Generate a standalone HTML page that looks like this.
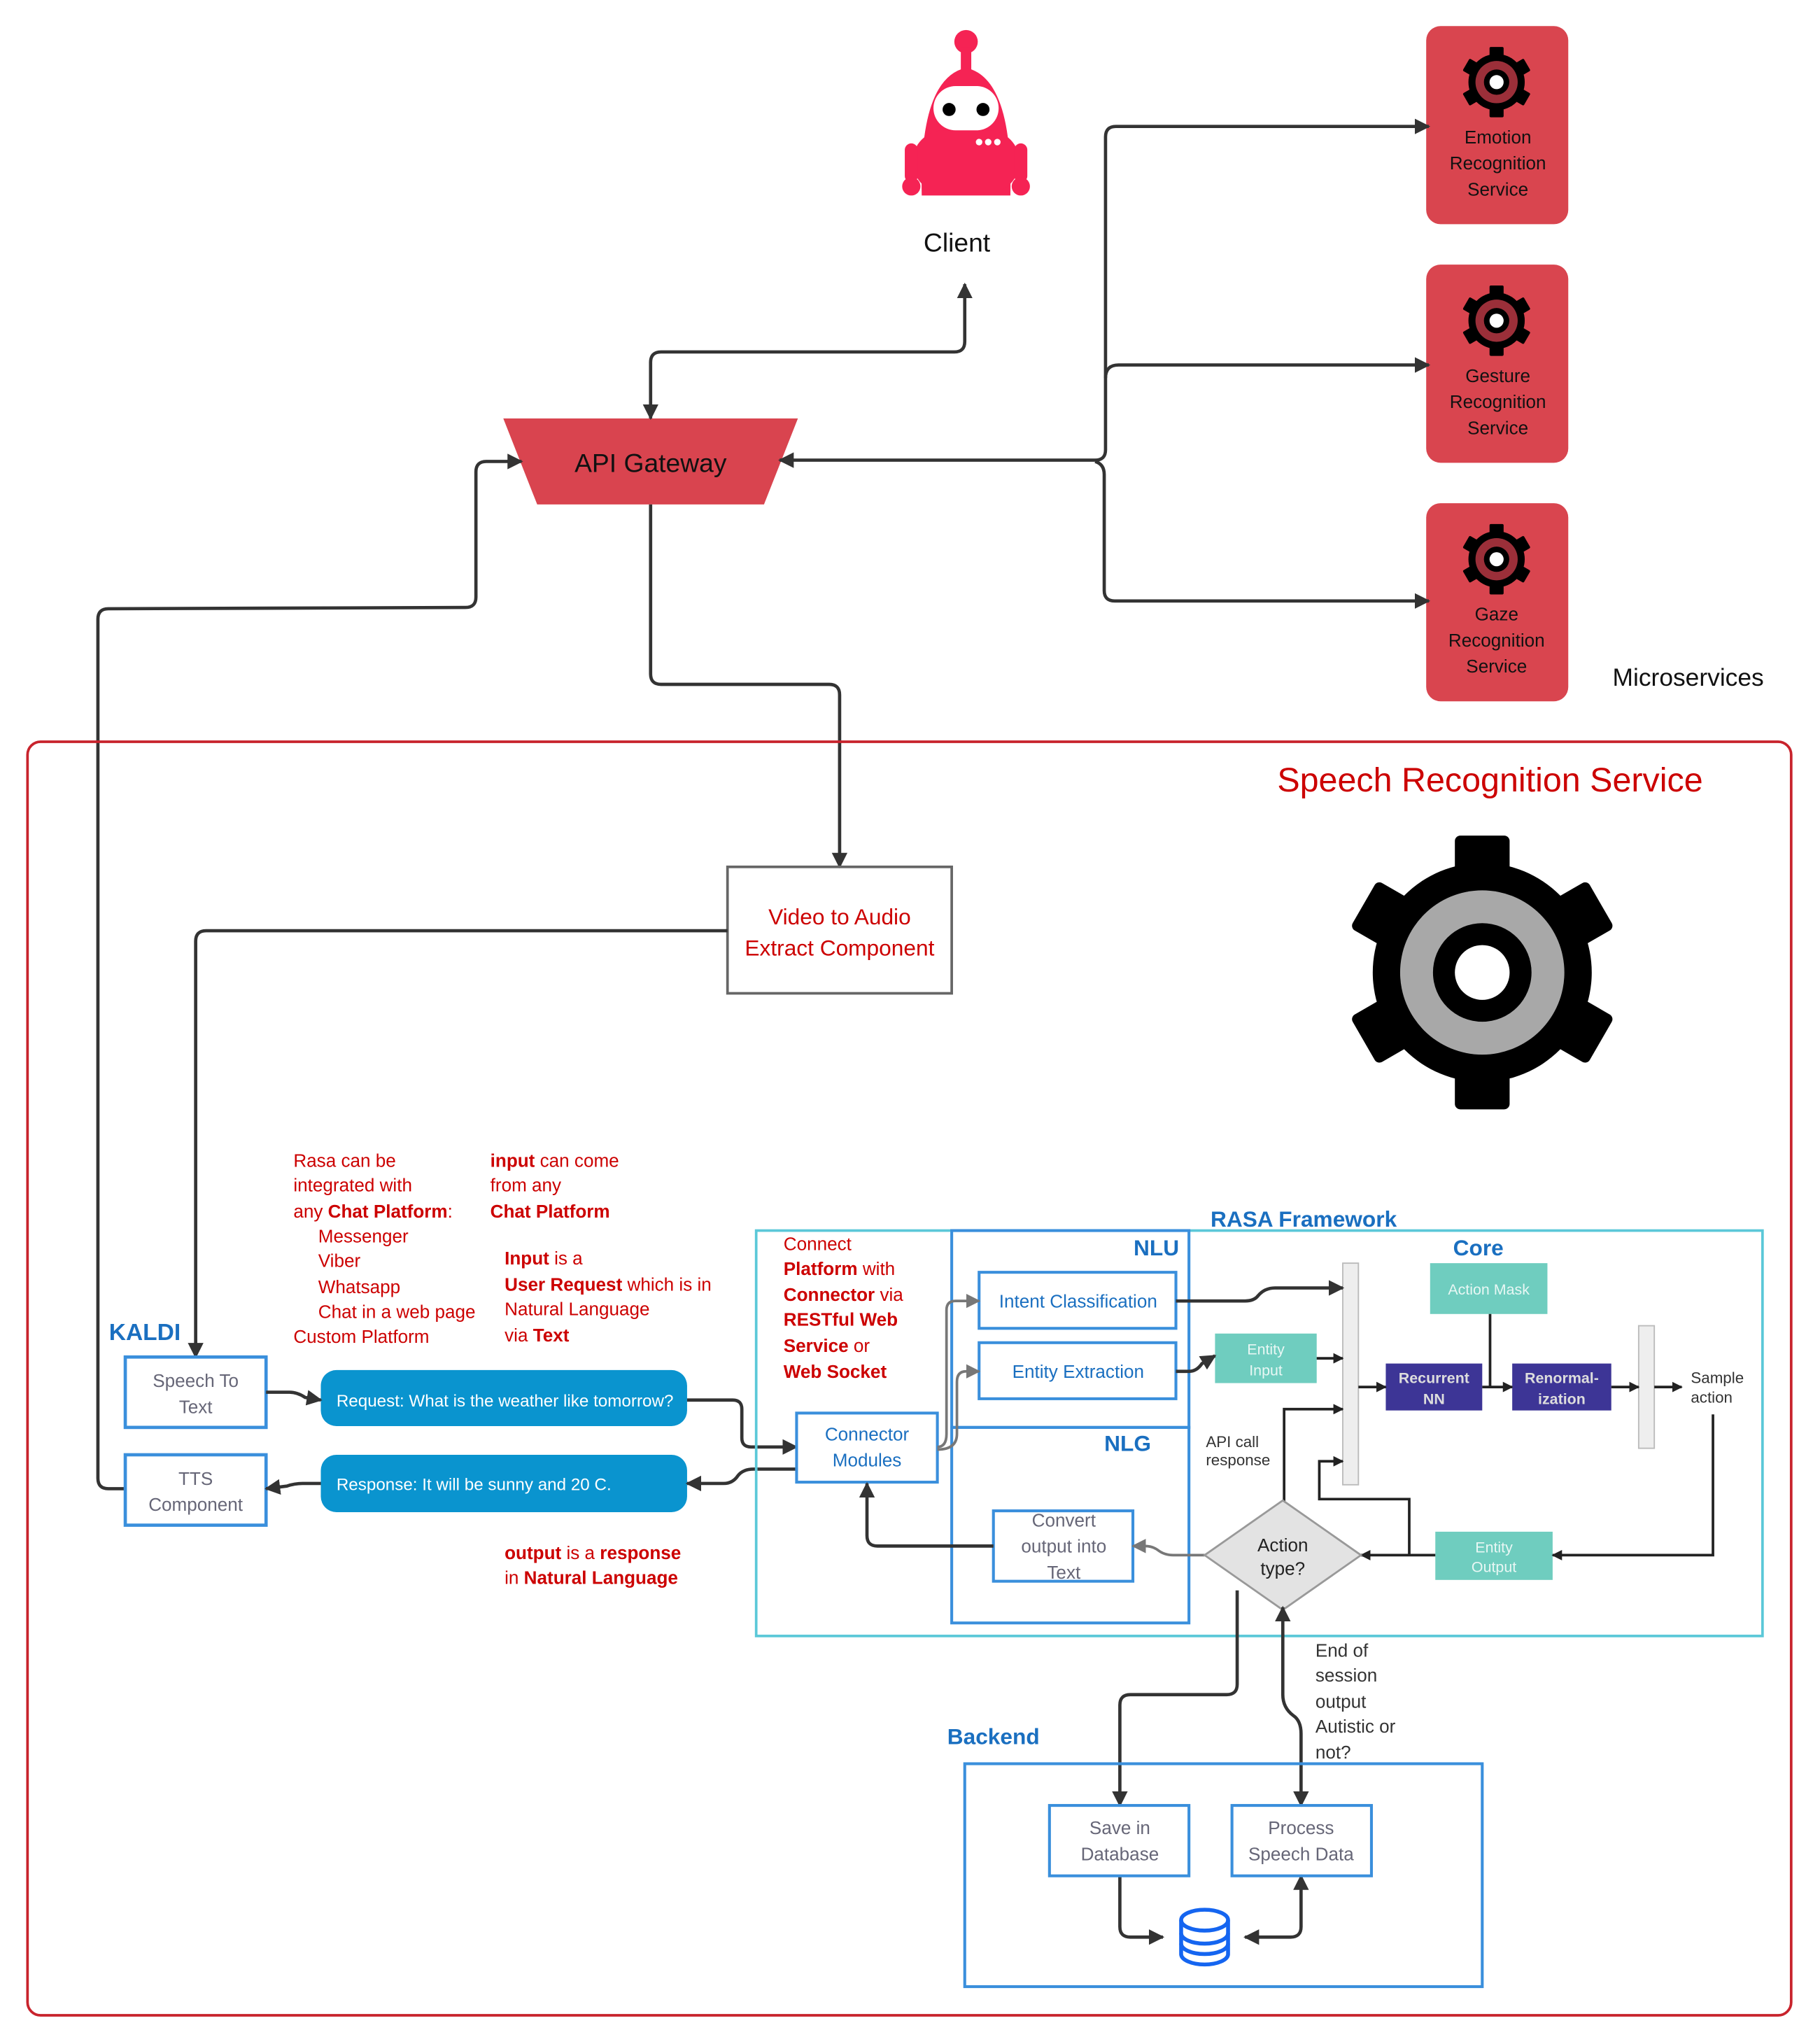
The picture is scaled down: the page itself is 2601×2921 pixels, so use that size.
<!DOCTYPE html>
<html><head><meta charset="utf-8"><style>
html,body{margin:0;padding:0;background:#fff}
svg{display:block}
text{font-family:"Liberation Sans",sans-serif}
</style></head><body>
<svg width="2601" height="2921" viewBox="0 0 1396 1568" xmlns="http://www.w3.org/2000/svg">
<defs>
<marker id="b" viewBox="0 0 10 10" refX="9" refY="5" markerWidth="12" markerHeight="12" orient="auto-start-reverse" markerUnits="userSpaceOnUse">
<path d="M0 0L10 5L0 10z" fill="#333"/></marker>
<marker id="g" viewBox="0 0 10 10" refX="9" refY="5" markerWidth="11" markerHeight="11" orient="auto-start-reverse" markerUnits="userSpaceOnUse">
<path d="M0 0L10 5L0 10z" fill="#777"/></marker>
<marker id="s" viewBox="0 0 10 10" refX="9" refY="5" markerWidth="8" markerHeight="8" orient="auto-start-reverse" markerUnits="userSpaceOnUse">
<path d="M0 0L10 5L0 10z" fill="#222"/></marker>
<symbol id="gear" viewBox="-1 -1 2 2" overflow="visible">
<g fill="#000">
<circle r="0.8"/>
<rect x="-0.2" y="-1" width="0.4" height="0.5" rx="0.04"/>
<rect x="-0.2" y="-1" width="0.4" height="0.5" rx="0.04" transform="rotate(60)"/>
<rect x="-0.2" y="-1" width="0.4" height="0.5" rx="0.04" transform="rotate(120)"/>
<rect x="-0.2" y="-1" width="0.4" height="0.5" rx="0.04" transform="rotate(180)"/>
<rect x="-0.2" y="-1" width="0.4" height="0.5" rx="0.04" transform="rotate(240)"/>
<rect x="-0.2" y="-1" width="0.4" height="0.5" rx="0.04" transform="rotate(300)"/>
</g>
<circle r="0.6" fill="currentColor"/>
<circle r="0.36" fill="#000"/>
<circle r="0.2" fill="#fff"/>
</symbol>
</defs>

<!-- Robot client -->
<g fill="#f52354">
<circle cx="741" cy="32" r="9"/>
<rect x="737" y="36" width="8" height="20"/>
<path d="M707 150 Q705 60 741 52 Q777 60 775 150 Z"/>
<rect x="700" y="100" width="82" height="48" rx="24"/>
<rect x="694" y="110" width="10" height="30" rx="5"/>
<rect x="778" y="110" width="10" height="30" rx="5"/>
<circle cx="699" cy="143" r="7"/><circle cx="783" cy="143" r="7"/>
</g>
<rect x="716" y="66" width="50" height="34" rx="17" fill="#fff"/>
<circle cx="728" cy="84" r="5" fill="#000"/><circle cx="754" cy="84" r="5" fill="#000"/>
<circle cx="751" cy="109" r="2.5" fill="#fff"/><circle cx="758" cy="109" r="2.5" fill="#fff"/><circle cx="765" cy="109" r="2.5" fill="#fff"/>
<text x="734" y="193" font-size="20" text-anchor="middle" fill="#111">Client</text>

<!-- API Gateway -->
<path d="M386 321 L612 321 L586 387 L412 387 Z" fill="#d9444f"/>
<text x="499" y="362" font-size="20" text-anchor="middle" fill="#111">API Gateway</text>

<!-- Microservices -->
<g font-size="14" text-anchor="middle" fill="#111">
<rect x="1094" y="20" width="109" height="152" rx="11" fill="#d9454f"/>
<use href="#gear" x="1121" y="36" width="54" height="54" color="#9b2f39"/>
<text x="1149" y="110">Emotion</text><text x="1149" y="130">Recognition</text><text x="1149" y="150">Service</text>
<rect x="1094" y="203" width="109" height="152" rx="11" fill="#d9454f"/>
<use href="#gear" x="1121" y="219" width="54" height="54" color="#9b2f39"/>
<text x="1149" y="293">Gesture</text><text x="1149" y="313">Recognition</text><text x="1149" y="333">Service</text>
<rect x="1094" y="386" width="109" height="152" rx="11" fill="#d9454f"/>
<use href="#gear" x="1121" y="402" width="54" height="54" color="#9b2f39"/>
<text x="1148" y="476">Gaze</text><text x="1148" y="496">Recognition</text><text x="1148" y="516">Service</text>
</g>
<text x="1295" y="526" font-size="19" text-anchor="middle" fill="#111">Microservices</text>

<!-- top connectors -->
<g fill="none" stroke="#333" stroke-width="2.5">
<path d="M499 321 L499 278 Q499 270 507 270 L732 270 Q740 270 740 262 L740 218" marker-start="url(#b)" marker-end="url(#b)"/>
<path d="M598 353 L840 353 Q848 353 848 345 L848 105 Q848 97 856 97 L1096 97" marker-start="url(#b)" marker-end="url(#b)"/>
<path d="M848 290 Q848 280 858 280 L1096 280" marker-end="url(#b)"/>
<path d="M840 354 Q847 356 847 364 L847 453 Q847 461 855 461 L1096 461" marker-end="url(#b)"/>
<path d="M400 354 L373 354 Q365 354 365 362 L365 458 Q365 466 357 466 L83 467 Q75 467 75 475 L75 1134 Q75 1142 83 1142 L96 1142" marker-start="url(#b)"/>
<path d="M499 387 L499 517 Q499 525 507 525 L636 525 Q644 525 644 533 L644 665" marker-end="url(#b)"/>
</g>

<!-- Speech Recognition Service -->
<rect x="21" y="569" width="1353" height="977" rx="10" fill="none" stroke="#c8232c" stroke-width="2"/>
<text x="1143" y="607" font-size="26" text-anchor="middle" fill="#c00">Speech Recognition Service</text>
<use href="#gear" x="1032" y="641" width="210" height="210" color="#a8a8a8"/>

<rect x="558" y="665" width="172" height="97" fill="none" stroke="#666" stroke-width="2"/>
<text x="644" y="709" font-size="17" text-anchor="middle" fill="#c00">Video to Audio</text>
<text x="644" y="733" font-size="17" text-anchor="middle" fill="#c00">Extract Component</text>
<path d="M558 714 L158 714 Q150 714 150 722 L150 1041" fill="none" stroke="#333" stroke-width="2.5" marker-end="url(#b)"/>

<text x="111" y="1028" font-size="18" font-weight="bold" text-anchor="middle" fill="#1a6fc0">KALDI</text>
<g fill="none" stroke="#3a8fdc" stroke-width="2.5">
<rect x="96" y="1041" width="108" height="54"/>
<rect x="96" y="1116" width="108" height="54"/>
</g>
<g font-size="14" text-anchor="middle" fill="#667">
<text x="150" y="1064">Speech To</text><text x="150" y="1084">Text</text>
<text x="150" y="1139">TTS</text><text x="150" y="1159">Component</text>
</g>
<rect x="246" y="1051" width="281" height="43" rx="12" fill="#0a94cf"/>
<rect x="246" y="1116" width="281" height="44" rx="12" fill="#0a94cf"/>
<text x="258" y="1079" font-size="13" fill="#fff">Request: What is the weather like tomorrow?</text>
<text x="258" y="1143" font-size="13" fill="#fff">Response: It will be sunny and 20 C.</text>

<g fill="none" stroke="#333" stroke-width="2.5">
<path d="M204 1068 L222 1068 Q228 1068 234 1072 L246 1074" marker-end="url(#b)"/>
<path d="M527 1074 L562 1074 Q569 1074 569 1081 L569 1103 Q569 1110 576 1110 L611 1110" marker-end="url(#b)"/>
<path d="M611 1127 L578 1127 Q570 1127 566 1132 Q562 1138 555 1138 L527 1138" marker-end="url(#b)"/>
<path d="M246 1138 L232 1138 Q226 1138 220 1140 L204 1142" marker-end="url(#b)"/>
</g>

<!-- red notes -->
<g font-size="14" fill="#c00">
<text x="225" y="895">Rasa can be</text>
<text x="225" y="914">integrated with</text>
<text x="225" y="934">any <tspan font-weight="bold">Chat Platform</tspan>:</text>
<text x="244" y="953">Messenger</text>
<text x="244" y="972">Viber</text>
<text x="244" y="992">Whatsapp</text>
<text x="244" y="1011">Chat in a web page</text>
<text x="225" y="1030">Custom Platform</text>
<text x="376" y="895"><tspan font-weight="bold">input</tspan> can come</text>
<text x="376" y="914">from any</text>
<text x="376" y="934" font-weight="bold">Chat Platform</text>
<text x="387" y="970"><tspan font-weight="bold">Input</tspan> is a</text>
<text x="387" y="990"><tspan font-weight="bold">User Request</tspan> which is in</text>
<text x="387" y="1009">Natural Language</text>
<text x="387" y="1029"> via <tspan font-weight="bold">Text</tspan></text>
<text x="387" y="1196"><tspan font-weight="bold">output</tspan> is a <tspan font-weight="bold">response</tspan></text>
<text x="387" y="1215">in <tspan font-weight="bold">Natural Language</tspan></text>
<text x="601" y="959">Connect</text>
<text x="601" y="978"><tspan font-weight="bold">Platform</tspan> with</text>
<text x="601" y="998"><tspan font-weight="bold">Connector</tspan> via</text>
<text x="601" y="1017" font-weight="bold">RESTful Web</text>
<text x="601" y="1037"><tspan font-weight="bold">Service</tspan> or</text>
<text x="601" y="1057" font-weight="bold">Web Socket</text>
</g>

<!-- RASA -->
<text x="1000" y="941" font-size="17" font-weight="bold" text-anchor="middle" fill="#1a6fc0">RASA Framework</text>
<rect x="580" y="944" width="772" height="311" fill="none" stroke="#5bc8d8" stroke-width="2"/>
<g fill="none" stroke="#3a8fdc" stroke-width="2.2">
<rect x="730" y="944" width="182" height="151"/>
<rect x="730" y="1095" width="182" height="150"/>
<rect x="751" y="976" width="151" height="43"/>
<rect x="751" y="1030" width="151" height="43"/>
<rect x="611" y="1084" width="108" height="53"/>
<rect x="762" y="1159" width="107" height="54"/>
</g>
<g font-size="17" font-weight="bold" fill="#1a6fc0" text-anchor="middle">
<text x="887" y="963">NLU</text><text x="865" y="1113">NLG</text><text x="1134" y="963">Core</text>
</g>
<g font-size="14" fill="#1a6fc0" text-anchor="middle">
<text x="827" y="1003">Intent Classification</text>
<text x="827" y="1057">Entity Extraction</text>
<text x="665" y="1105">Connector</text><text x="665" y="1125">Modules</text>
</g>
<g font-size="14" fill="#667" text-anchor="middle">
<text x="816" y="1171">Convert</text><text x="816" y="1191">output into</text><text x="816" y="1211">Text</text>
</g>
<g fill="none" stroke="#777" stroke-width="2">
<path d="M719 1110 Q726 1110 726 1100 L726 1005 Q726 998 733 998 L751 998" marker-end="url(#g)"/>
<path d="M719 1112 Q734 1112 734 1100 L734 1060 Q734 1052 741 1052 L751 1052" marker-end="url(#g)"/>
<path d="M924 1193 L900 1193 Q893 1193 888 1189 Q884 1186 878 1186 L869 1186" marker-end="url(#g)"/>
</g>
<path d="M762 1186 L673 1186 Q665 1186 665 1178 L665 1138" fill="none" stroke="#333" stroke-width="2.5" marker-end="url(#b)"/>

<!-- Core internals -->
<rect x="1030" y="969" width="12" height="170" fill="#eee" stroke="#bbb"/>
<rect x="1257" y="1017" width="12" height="94" fill="#eee" stroke="#bbb"/>
<g fill="#6fcdbf"><rect x="1097" y="969" width="90" height="39"/><rect x="932" y="1023" width="78" height="38"/><rect x="1101" y="1175" width="90" height="37"/></g>
<g fill="#3d3596"><rect x="1063" y="1046" width="74" height="36"/><rect x="1160" y="1046" width="76" height="36"/></g>
<g font-size="11.5" fill="#e8f7f4" text-anchor="middle">
<text x="1142" y="993">Action Mask</text>
<text x="971" y="1039">Entity</text><text x="971" y="1055">Input</text>
<text x="1146" y="1191">Entity</text><text x="1146" y="1206">Output</text>
</g>
<g font-size="11.5" fill="#ddd" text-anchor="middle" font-weight="bold">
<text x="1100" y="1061">Recurrent</text><text x="1100" y="1077">NN</text>
<text x="1198" y="1061">Renormal-</text><text x="1198" y="1077">ization</text>
</g>
<g font-size="12" fill="#333">
<text x="1297" y="1061">Sample</text><text x="1297" y="1076">action</text>
<text x="925" y="1110">API call</text><text x="925" y="1124">response</text>
</g>
<g fill="none" stroke="#222" stroke-width="2">
<path d="M902 998 L955 998 Q962 998 965 994 Q970 988 978 988 L1030 988" marker-end="url(#b)" stroke-width="2.5" stroke="#333"/>
<path d="M902 1052 L912 1052 Q918 1052 922 1046 L932 1040" marker-end="url(#b)" stroke-width="2.5" stroke="#333"/>
<path d="M1010 1042 L1030 1042" marker-end="url(#s)"/>
<path d="M1042 1064 L1063 1064" marker-end="url(#s)"/>
<path d="M1137 1064 L1160 1064" marker-end="url(#s)"/>
<path d="M1143 1008 L1143 1064"/>
<path d="M1236 1064 L1257 1064" marker-end="url(#s)"/>
<path d="M1269 1064 L1290 1064" marker-end="url(#s)"/>
<path d="M1314 1085 L1314 1193 L1191 1193" marker-end="url(#s)"/>
<path d="M1101 1193 L1044 1193" marker-end="url(#s)"/>
<path d="M1081 1193 L1081 1150 L1012 1150 L1012 1121 L1030 1121" marker-end="url(#s)"/>
<path d="M985 1155 L985 1081 L1030 1081" marker-end="url(#s)"/>
</g>
<path d="M984 1151 L1044 1193 L984 1235 L924 1193 Z" fill="#e3e3e3" stroke="#999" stroke-width="1.5"/>
<text x="984" y="1190" font-size="14" text-anchor="middle" fill="#222">Action</text>
<text x="984" y="1208" font-size="14" text-anchor="middle" fill="#222">type?</text>

<!-- Backend -->
<g fill="none" stroke="#333" stroke-width="2.5">
<path d="M949 1220 L949 1292 Q949 1300 941 1300 L867 1300 Q859 1300 859 1308 L859 1385" marker-end="url(#b)"/>
<path d="M984 1233 L984 1300 Q984 1310 992 1316 Q998 1320 998 1330 L998 1385" marker-start="url(#b)" marker-end="url(#b)"/>
<path d="M859 1439 L859 1478 Q859 1486 867 1486 L892 1486" marker-end="url(#b)"/>
<path d="M998 1439 L998 1478 Q998 1486 990 1486 L955 1486" marker-start="url(#b)" marker-end="url(#b)"/>
</g>
<g font-size="14" fill="#333"><text x="1009" y="1271">End of</text><text x="1009" y="1290">session</text><text x="1009" y="1310">output</text><text x="1009" y="1329">Autistic or</text><text x="1009" y="1349">not?</text></g>
<text x="762" y="1338" font-size="17" font-weight="bold" text-anchor="middle" fill="#1a6fc0">Backend</text>
<g fill="none" stroke="#3a8fdc" stroke-width="2.2">
<rect x="740" y="1353" width="397" height="171"/>
<rect x="805" y="1385" width="107" height="54"/>
<rect x="945" y="1385" width="107" height="54"/>
</g>
<g font-size="14" fill="#667" text-anchor="middle">
<text x="859" y="1407">Save in</text><text x="859" y="1427">Database</text>
<text x="998" y="1407">Process</text><text x="998" y="1427">Speech Data</text>
</g>
<g fill="none" stroke="#1565f0" stroke-width="3">
<ellipse cx="924" cy="1473" rx="18" ry="8"/>
<path d="M906 1473 L906 1499 A18 8 0 0 0 942 1499 L942 1473"/>
<path d="M906 1483 A18 8 0 0 0 942 1483"/>
<path d="M906 1491 A18 8 0 0 0 942 1491"/>
</g>
</svg>
</body></html>
